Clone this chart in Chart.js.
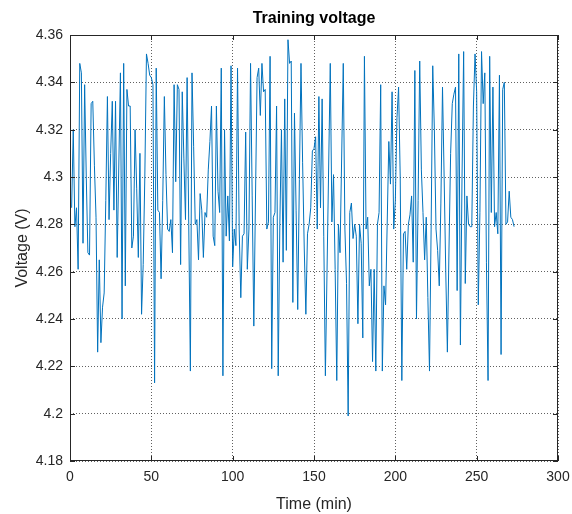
<!DOCTYPE html>
<html>
<head>
<meta charset="utf-8">
<script src="https://cdn.jsdelivr.net/npm/chart.js@4"></script>
<style>
  html, body { margin: 0; padding: 0; background: #fff; }
  canvas { display: block; }
</style>
</head>
<body>
<canvas id="c" width="572" height="514"></canvas>
<script>
const times = [
  1, 2, 3, 4, 5, 6, 7, 8, 9, 10, 11, 12, 13, 14, 15, 16, 17, 18, 19, 20,
  21, 22, 23, 24, 25, 26, 27, 28, 29, 31, 32, 33, 34, 35, 36, 37, 38, 39, 40,
  41, 42, 43, 44, 45, 46, 47, 48, 49, 50, 51, 52, 53, 54, 55, 56, 57, 58, 59, 60,
  61, 62, 63, 64, 65, 66, 67, 68, 69, 70, 71, 72, 73, 74, 75, 76, 77, 78, 79, 80,
  81, 82, 83, 84, 85, 86, 87, 88, 89, 90, 91, 92, 93, 94, 95, 96, 97, 98, 99, 100,
  101, 102, 103, 104, 105, 106, 107, 108, 109, 110, 111, 112, 113, 115, 116, 117, 118, 119, 120,
  121, 122, 123, 124, 125, 126, 127, 128, 129, 130, 131, 132, 133, 134, 135, 136, 137, 138, 139, 140,
  141, 142, 143, 144, 145, 146, 147, 148, 149, 150, 151, 152, 153, 154, 155, 156, 157, 160,
  161, 162, 163, 164, 165, 166, 168, 169, 170, 171, 172, 173, 174, 175, 176, 177, 178, 179, 180,
  181, 182, 183, 184, 185, 186, 187, 188, 189, 190, 191, 192, 193, 194, 196, 197, 198, 199, 200,
  201, 202, 203, 204, 205, 206, 207, 208, 209, 210, 211, 212, 213, 214, 215, 216, 217, 218, 219, 220,
  221, 222, 223, 224, 225, 226, 227, 228, 229, 230, 231, 232, 233, 234, 235, 236, 237, 238, 239, 240,
  241, 242, 243, 244, 245, 246, 247, 248, 249, 250, 251, 252, 253, 254, 255, 256, 257, 258, 259, 260,
  261, 262, 263, 264, 265, 266, 267, 268, 269, 270, 271, 272, 273
];
const voltage = [
  4.287, 4.320, 4.279, 4.287, 4.261, 4.348, 4.344, 4.272, 4.339, 4.300, 4.268, 4.267, 4.331, 4.332, 4.305, 4.283, 4.226, 4.265, 4.230, 4.245,
  4.251, 4.290, 4.334, 4.282, 4.310, 4.332, 4.286, 4.332, 4.266, 4.344, 4.240, 4.348, 4.254, 4.337, 4.330, 4.330, 4.270, 4.275, 4.320,
  4.295, 4.266, 4.310, 4.242, 4.263, 4.300, 4.352, 4.348, 4.343, 4.342, 4.339, 4.213, 4.346, 4.286, 4.285, 4.257, 4.290, 4.334, 4.301, 4.278,
  4.277, 4.282, 4.268, 4.339, 4.298, 4.339, 4.337, 4.263, 4.336, 4.308, 4.282, 4.342, 4.280, 4.218, 4.344, 4.313, 4.280, 4.282, 4.265, 4.293,
  4.286, 4.266, 4.285, 4.283, 4.303, 4.315, 4.330, 4.275, 4.271, 4.330, 4.294, 4.285, 4.346, 4.216, 4.320, 4.275, 4.292, 4.273, 4.347, 4.262,
  4.278, 4.271, 4.346, 4.278, 4.249, 4.275, 4.276, 4.319, 4.261, 4.278, 4.348, 4.292, 4.237, 4.342, 4.346, 4.326, 4.348, 4.336, 4.337,
  4.278, 4.281, 4.351, 4.219, 4.283, 4.285, 4.330, 4.216, 4.280, 4.320, 4.264, 4.333, 4.269, 4.358, 4.348, 4.349, 4.247, 4.327, 4.286, 4.244,
  4.299, 4.348, 4.306, 4.270, 4.242, 4.276, 4.280, 4.287, 4.311, 4.312, 4.317, 4.278, 4.334, 4.287, 4.333, 4.275, 4.216, 4.348,
  4.281, 4.301, 4.261, 4.214, 4.280, 4.268, 4.348, 4.278, 4.255, 4.199, 4.285, 4.289, 4.274, 4.280, 4.275, 4.238, 4.280, 4.272, 4.232,
  4.351, 4.278, 4.283, 4.254, 4.261, 4.222, 4.261, 4.218, 4.280, 4.285, 4.339, 4.218, 4.254, 4.246, 4.315, 4.297, 4.336, 4.278, 4.290,
  4.325, 4.338, 4.300, 4.214, 4.276, 4.277, 4.261, 4.280, 4.284, 4.292, 4.264, 4.345, 4.240, 4.290, 4.349, 4.303, 4.285, 4.265, 4.283, 4.249,
  4.218, 4.278, 4.347, 4.320, 4.278, 4.269, 4.254, 4.289, 4.338, 4.300, 4.260, 4.226, 4.270, 4.310, 4.331, 4.335, 4.338, 4.252, 4.352, 4.229,
  4.300, 4.353, 4.255, 4.292, 4.280, 4.279, 4.279, 4.330, 4.352, 4.336, 4.246, 4.285, 4.353, 4.331, 4.344, 4.264, 4.214, 4.351, 4.285, 4.338,
  4.279, 4.285, 4.276, 4.343, 4.225, 4.337, 4.340, 4.280, 4.281, 4.294, 4.283, 4.282, 4.279
];
const xTickLabels = ['0', '50', '100', '150', '200', '250', '300'];
const yTickLabels = ['4.18', '4.2', '4.22', '4.24', '4.26', '4.28', '4.3', '4.32', '4.34', '4.36'];

const FONT = '"Liberation Sans", Arial, Helvetica, sans-serif';
const AXIS = '#262626';

// title in a narrow bold face if the machine has one, else regular bold
function titleFont() {
  const ctx = document.createElement('canvas').getContext('2d');
  ctx.font = 'bold 20px monospace';
  const ref = ctx.measureText('Training voltage').width;
  ctx.font = 'bold 20px "Liberation Sans Narrow", monospace';
  const narrow = ctx.measureText('Training voltage').width;
  if (Math.abs(ref - narrow) > 0.5) {
    return { family: '"Liberation Sans Narrow", "Arial Narrow", sans-serif', size: 19, weight: 'bold' };
  }
  return { family: FONT, size: 16, weight: 'bold' };
}

// MATLAB-like box with inward tick marks
const boxPlugin = {
  id: 'box',
  afterDraw(chart) {
    const { ctx, chartArea: a, scales: { x, y } } = chart;
    ctx.save();
    ctx.strokeStyle = AXIS;
    ctx.lineWidth = 1;
    ctx.strokeRect(a.left + 0.5, a.top + 0.5, a.width - 1, a.height - 1);
    ctx.beginPath();
    x.ticks.forEach(t => {
      const px = Math.round(x.getPixelForValue(t.value)) + 0.5;
      ctx.moveTo(px, a.bottom); ctx.lineTo(px, a.bottom - 5);
      ctx.moveTo(px, a.top); ctx.lineTo(px, a.top + 5);
    });
    y.ticks.forEach(t => {
      const py = Math.round(y.getPixelForValue(t.value)) + 0.5;
      ctx.moveTo(a.left, py); ctx.lineTo(a.left + 5, py);
      ctx.moveTo(a.right, py); ctx.lineTo(a.right - 5, py);
    });
    ctx.stroke();
    ctx.restore();
  }
};

const tf = titleFont();

new Chart(document.getElementById('c').getContext('2d'), {
  type: 'line',
  data: {
    datasets: [{
      label: 'Voltage',
      data: times.map((t, i) => ({ x: t, y: voltage[i] })),
      borderColor: '#0072BD',
      borderWidth: 1,
      pointRadius: 0,
      tension: 0,
      fill: false
    }]
  },
  options: {
    responsive: false,
    animation: false,
    layout: { padding: { left: 0, right: 14, top: 0, bottom: 0 } },
    plugins: {
      legend: { display: false },
      tooltip: { enabled: false },
      title: {
        display: true,
        text: 'Training voltage',
        fullSize: false,
        color: '#000',
        font: tf,
        padding: { top: 35 - tf.size * 1.2 - 7, bottom: 7 }
      }
    },
    scales: {
      x: {
        type: 'linear',
        min: 0,
        max: 300,
        afterFit: s => { s.height = 53; s.paddingLeft = 0; s.paddingRight = 0; },
        ticks: {
          stepSize: 50,
          color: AXIS,
          padding: 8,
          maxRotation: 0,
          font: { family: FONT, size: 14 },
          callback: (v, i) => xTickLabels[i]
        },
        grid: { color: 'rgba(30,30,30,0.7)', lineWidth: 1, drawTicks: false },
        border: { display: false, dash: [1, 2] },
        title: {
          display: true,
          text: 'Time (min)',
          color: AXIS,
          font: { family: FONT, size: 16 },
          padding: { top: 0, bottom: 0 }
        }
      },
      y: {
        type: 'linear',
        min: 4.18,
        max: 4.36,
        afterFit: s => { s.width = 70; s.paddingTop = 0; s.paddingBottom = 0; },
        ticks: {
          stepSize: 0.02,
          color: AXIS,
          padding: 7,
          font: { family: FONT, size: 14 },
          callback: (v, i) => yTickLabels[i]
        },
        grid: { color: 'rgba(30,30,30,0.7)', lineWidth: 1, drawTicks: false },
        border: { display: false, dash: [1, 2] },
        title: {
          display: true,
          text: 'Voltage (V)',
          color: AXIS,
          font: { family: FONT, size: 16 },
          padding: { top: 13, bottom: 0 }
        }
      }
    }
  },
  plugins: [boxPlugin]
});
</script>
</body>
</html>
